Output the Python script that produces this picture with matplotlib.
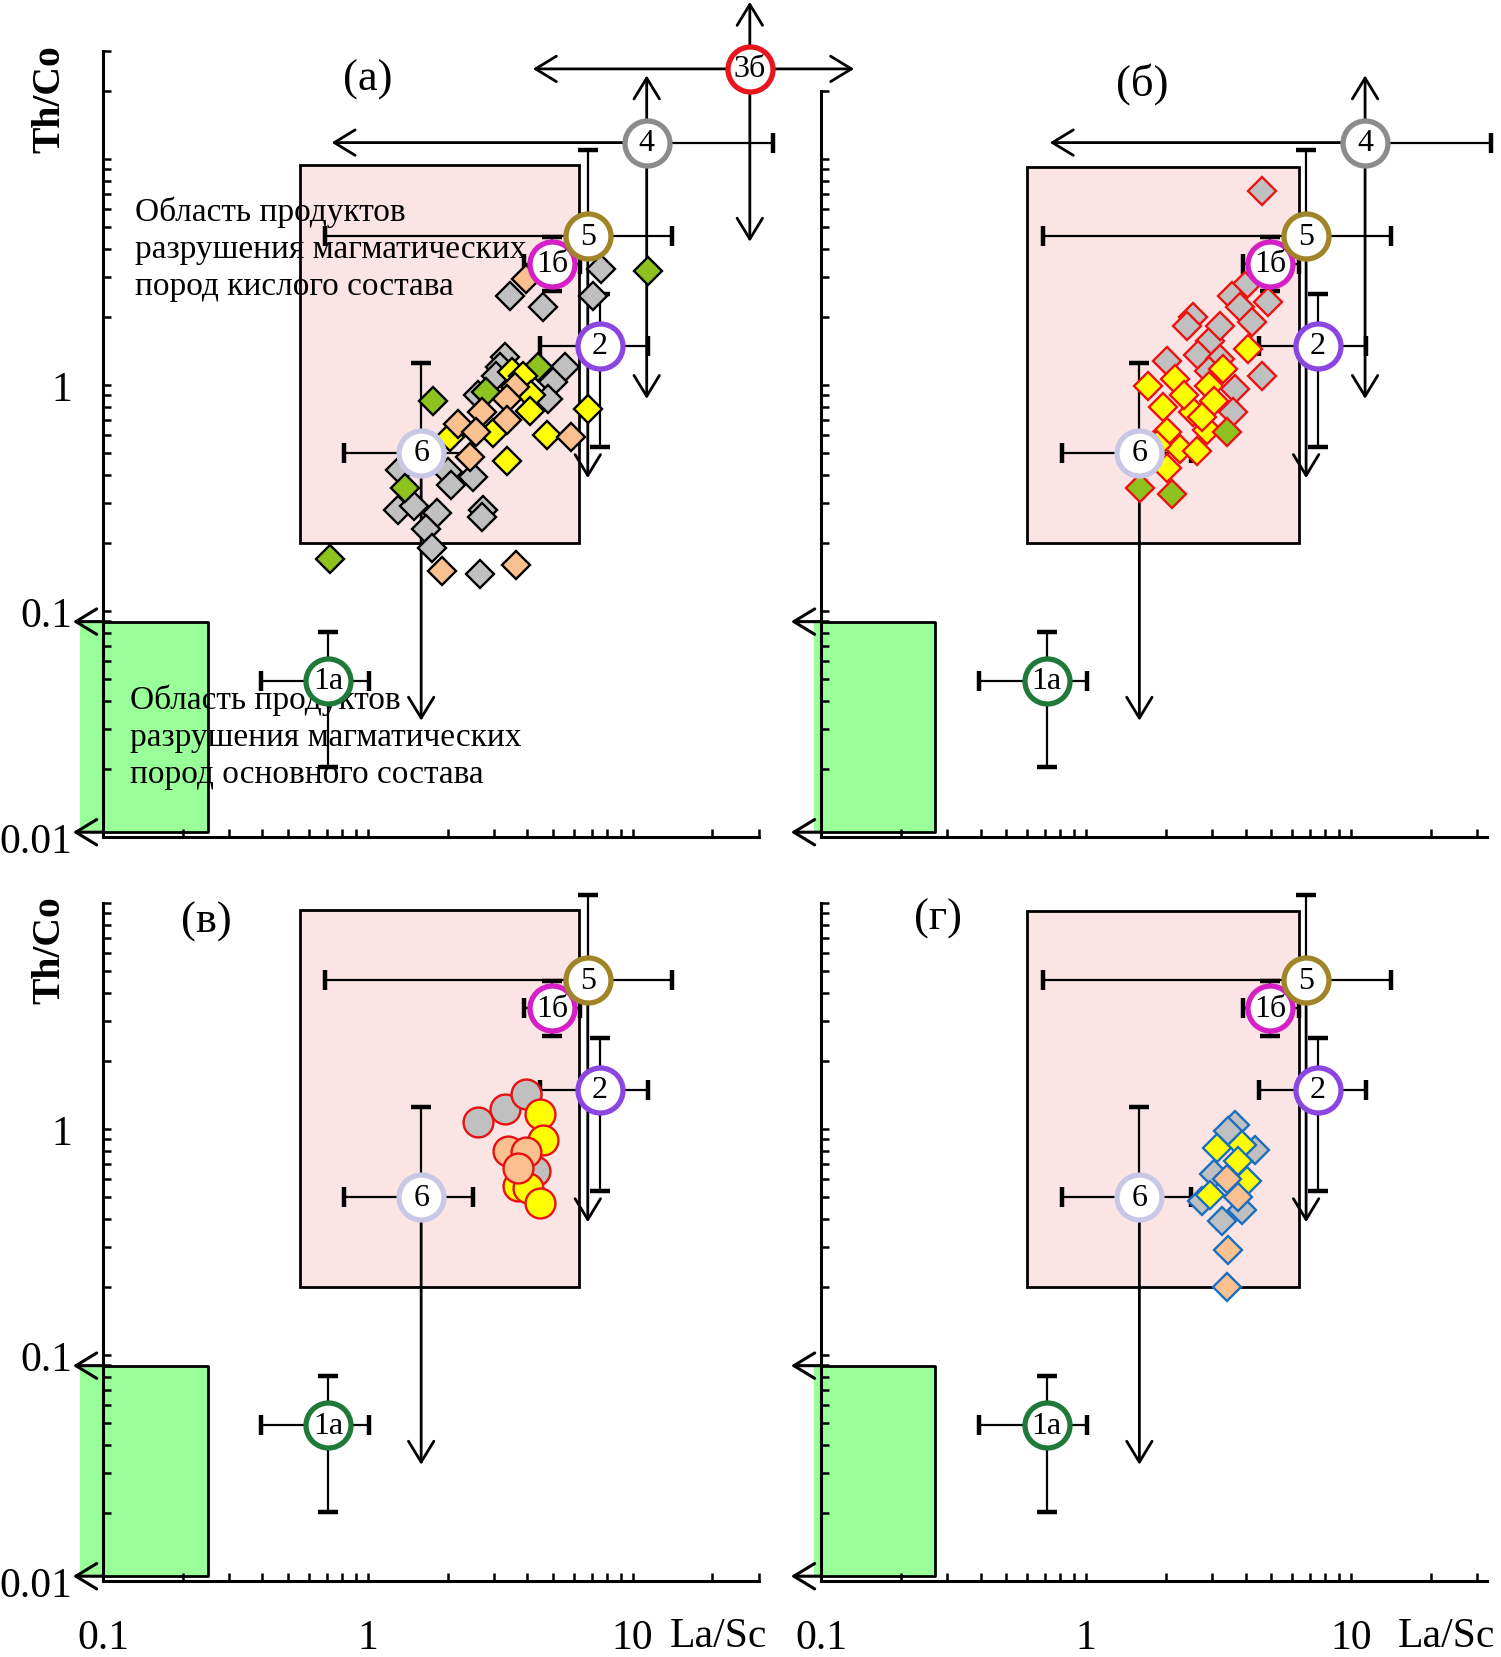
import matplotlib
matplotlib.use('Agg')
import matplotlib.pyplot as plt
from matplotlib.ticker import FixedLocator, FixedFormatter, NullFormatter
from matplotlib.patches import Rectangle

plt.rcParams['font.family'] = ['Liberation Serif', 'DejaVu Serif']

# ---------------- reference compositions ----------------
REF_NAMES = ['1а', '6', '2', '1б', '5', '4', '3б']
REF_X = [0.71, 1.59, 7.5, 4.96, 6.77, 11.3, 27.7]
REF_Y = [0.049, 0.50, 1.49, 3.43, 4.55, 11.8, 25.0]
REF_XLO = [0.396, 0.81, 4.48, 3.90, 0.687, 0.73, 4.2]
REF_XHI = [1.01, 2.50, 11.4, 6.35, 14.1, 33.8, 68.6]
REF_YLO = [0.0203, 0.0327, 0.53, 2.59, 0.387, 0.867, 4.3]
REF_YHI = [0.0805, 1.25, 2.53, 4.5, 10.9, 23.4, 49.5]
# end type of (xlo, xhi, ylo, yhi): c = cap, a = arrow
REF_ENDS = ['cccc', 'ccac', 'cccc', 'cccc', 'ccac', 'acaa', 'aaaa']
REF_COLORS = ['#1f7a3a', '#c8c8e6', '#8b45e0', '#d420c6', '#a08428', '#8c8c8c', '#e8161b']

# fields: [x0, x1, y0, y1] for left and right columns
ACID_FIELD_L = [0.556, 6.28, 0.2, 9.35]
ACID_FIELD_R = [0.60, 6.35, 0.2, 9.2]
BASIC_FIELD_L = [0.0817, 0.249, 0.0105, 0.0897]
BASIC_FIELD_R = [0.094, 0.269, 0.0105, 0.0897]
ARROW_TIP_X = 0.077

TEXT_ACID = ['Область продуктов', 'разрушения магматических', 'пород кислого состава']
TEXT_BASIC = ['Область продуктов', 'разрушения магматических', 'пород основного состава']

# ---------------- panel (а) samples ----------------
A_GRAY_X = [7.62, 7.08, 3.43, 4.59, 3.29, 3.15, 3.06, 5.53, 5.00, 4.79, 2.61, 2.01, 2.50, 1.32, 2.07,
            1.30, 1.50, 1.82, 2.72, 2.69, 1.66, 1.74, 2.65]
A_GRAY_Y = [3.26, 2.48, 2.48, 2.21, 1.33, 1.20, 1.10, 1.20, 1.03, 0.87, 0.90, 0.41, 0.39, 0.42, 0.36,
            0.28, 0.29, 0.27, 0.28, 0.26, 0.23, 0.19, 0.146]
A_GREEN_X = [11.4, 4.39, 2.80, 1.76, 1.38, 0.72]
A_GREEN_Y = [3.2, 1.20, 0.93, 0.85, 0.35, 0.17]
A_YELLOW_X = [3.49, 3.86, 4.14, 4.09, 2.04, 2.97, 6.78, 4.73, 3.34]
A_YELLOW_Y = [1.14, 1.10, 0.90, 0.77, 0.59, 0.61, 0.78, 0.60, 0.46]
A_PEACH_X = [3.97, 3.59, 3.34, 2.69, 3.34, 2.19, 2.57, 5.87, 2.43, 1.90, 3.64]
A_PEACH_Y = [2.94, 0.98, 0.87, 0.76, 0.70, 0.67, 0.62, 0.59, 0.48, 0.15, 0.16]

# ---------------- panel (б) samples ----------------
B_GRAY_X = [4.60, 3.98, 3.55, 4.88, 3.81, 4.23, 2.54, 2.94, 3.21, 2.65, 2.02, 4.60, 3.66, 3.60, 2.40,
            3.20, 2.90]
B_GRAY_Y = [7.24, 2.75, 2.48, 2.32, 2.21, 1.89, 1.99, 1.57, 1.83, 1.35, 1.28, 1.10, 0.96, 0.76, 1.83,
            1.30, 1.15]
B_YELLOW_X = [4.10, 3.30, 2.17, 1.72, 2.90, 1.96, 2.54, 2.02, 2.86, 2.26, 2.62, 1.85, 2.02,
              2.35, 3.05, 2.75]
B_YELLOW_Y = [1.44, 1.18, 1.06, 0.99, 0.99, 0.80, 0.76, 0.62, 0.63, 0.52, 0.51, 0.54, 0.43,
              0.90, 0.85, 0.72]
B_GREEN_X = [3.40, 1.60, 2.11]
B_GREEN_Y = [0.62, 0.35, 0.33]

# ---------------- panel (в) samples ----------------
C_GRAY_X = [2.61, 3.29, 3.97, 4.27]
C_GRAY_Y = [1.07, 1.23, 1.43, 0.65]
C_YELLOW_X = [4.46, 4.59, 3.69, 4.03, 4.46]
C_YELLOW_Y = [1.16, 0.89, 0.56, 0.55, 0.47]
C_PEACH_X = [3.38, 3.97, 3.69]
C_PEACH_Y = [0.80, 0.79, 0.67]

# ---------------- panel (г) samples ----------------
D_GRAY_X = [3.66, 3.44, 4.35, 3.03, 2.74, 3.25, 3.87]
D_GRAY_Y = [1.04, 0.98, 0.81, 0.63, 0.48, 0.39, 0.44]
D_YELLOW_X = [3.87, 3.11, 3.76, 4.05, 2.94]
D_YELLOW_Y = [0.85, 0.82, 0.72, 0.59, 0.51]
D_PEACH_X = [3.40, 3.76, 3.44, 3.40]
D_PEACH_Y = [0.60, 0.50, 0.29, 0.20]

GRAY = '#c0c0c0'
YELLOW = '#ffff00'
PEACH = '#fac090'
GREEN = '#8ec21e'
PINK = '#fbe4e4'
LIGHTGREEN = '#99ff99'

X_MAJOR = [0.1, 1, 10]
X_MINOR = [0.2, 0.3, 0.4, 0.5, 0.6, 0.7, 0.8, 0.9, 2, 3, 4, 5, 6, 7, 8, 9, 20, 30]
Y_MAJOR = [0.01, 0.1, 1]
Y_MAJOR_LABELS = ['0.01', '0.1', '1']
Y_MINOR = [0.02, 0.03, 0.04, 0.05, 0.06, 0.07, 0.08, 0.09,
           0.2, 0.3, 0.4, 0.5, 0.6, 0.7, 0.8, 0.9,
           2, 3, 4, 5, 6, 7, 8, 9, 10, 20, 30]

W, H = 1501, 1658
fig = plt.figure(figsize=(W / 100, H / 100), dpi=100)

ARROW = '->,head_length=1,head_width=0.61'


def make_ax(left, width, xmax, top, bottom, ytop, spine_top, xlabels, ylabels):
    ax = fig.add_axes([left / W, 1 - bottom / H, width / W, (bottom - top) / H])
    ax.set_xscale('log')
    ax.set_yscale('log')
    ax.set_xlim(0.1, xmax)
    ax.set_ylim(0.01, ytop)
    ax.patch.set_alpha(0)
    for s in ['top', 'right']:
        ax.spines[s].set_visible(False)
    for s in ['left', 'bottom']:
        ax.spines[s].set_linewidth(2.2)
    ax.spines['left'].set_bounds(0.01, spine_top)
    ax.xaxis.set_major_locator(FixedLocator(X_MAJOR))
    ax.xaxis.set_minor_locator(FixedLocator(X_MINOR))
    ax.xaxis.set_major_formatter(FixedFormatter(['0.1', '1', '10']) if xlabels else NullFormatter())
    ax.xaxis.set_minor_formatter(NullFormatter())
    ax.yaxis.set_major_locator(FixedLocator(Y_MAJOR))
    ax.yaxis.set_minor_locator(FixedLocator([v for v in Y_MINOR if v <= spine_top]))
    ax.yaxis.set_major_formatter(FixedFormatter(Y_MAJOR_LABELS) if ylabels else NullFormatter())
    ax.yaxis.set_minor_formatter(NullFormatter())
    ax.tick_params(which='both', direction='in', length=5.8, width=1.8, top=False, right=False,
                   labelsize=30)
    ax.tick_params(axis='y', pad=22)
    ax.tick_params(axis='x', pad=27)
    return ax


def fields(ax, acid, basic):
    x0, x1, y0, y1 = acid
    ax.add_patch(Rectangle((x0, y0), x1 - x0, y1 - y0, facecolor=PINK, edgecolor='black',
                           lw=2, zorder=1))
    gx0, gx1, gy0, gy1 = basic
    ax.add_patch(Rectangle((gx0, gy0), gx1 - gx0, gy1 - gy0, facecolor=LIGHTGREEN,
                           edgecolor='none', zorder=1, clip_on=False))
    ax.plot([0.1, gx1, gx1, 0.1], [gy1, gy1, gy0, gy0], color='black', lw=2, zorder=1.5,
            clip_on=False)
    for gy in (gy1, gy0):
        ax.annotate('', xy=(ARROW_TIP_X, gy), xytext=(0.1, gy),
                    arrowprops=dict(arrowstyle=ARROW, mutation_scale=15, lw=2.2, color='k',
                                    shrinkA=0, shrinkB=0, clip_on=False),
                    annotation_clip=False, zorder=3)


def draw_ref(ax, i):
    x, y = REF_X[i], REF_Y[i]
    ends = REF_ENDS[i]
    segs = [((REF_XLO[i], y), ends[0], '|'), ((REF_XHI[i], y), ends[1], '|'),
            ((x, REF_YLO[i]), ends[2], '_'), ((x, REF_YHI[i]), ends[3], '_')]
    for (ex, ey), style, capm in segs:
        if style == 'a':
            ax.annotate('', xy=(ex, ey), xytext=(x, y),
                        arrowprops=dict(arrowstyle=ARROW, mutation_scale=15, lw=2, color='k',
                                        shrinkA=0, shrinkB=0, clip_on=False),
                        annotation_clip=False, zorder=3)
        else:
            ax.plot([x, ex], [y, ey], color='k', lw=1.6, clip_on=False, zorder=3,
                    solid_capstyle='butt')
            ax.plot([ex], [ey], marker=capm, ms=15, mew=3.2, color='k', clip_on=False, zorder=3)


def draw_ref_marker(ax, i):
    ax.plot([REF_X[i]], [REF_Y[i]], 'o', ms=32.4, mfc='white', mec=REF_COLORS[i], mew=3.8,
            zorder=5, clip_on=False)
    ax.text(REF_X[i], REF_Y[i], REF_NAMES[i], ha='center', va='center', fontsize=23, zorder=6,
            clip_on=False)


def refs(ax, idx):
    for i in idx:
        draw_ref(ax, i)
    for i in idx:
        draw_ref_marker(ax, i)


def scatter(ax, xs, ys, fc, ec, marker='D', ms=14.4):
    ax.plot(xs, ys, linestyle='none', marker=marker, ms=ms, mfc=fc, mec=ec, mew=1.7, zorder=4,
            clip_on=False)


# axes (right column spans a little further, to about 32.6)
ax_a = make_ax(103, 656, 30, 52, 838, 30, 30, False, True)
ax_b = make_ax(821, 666, 32.6, 52, 838, 30, 20, False, False)
ax_c = make_ax(103, 656, 30, 904, 1582, 10, 10, True, True)
ax_d = make_ax(821, 666, 32.6, 904, 1582, 10, 10, True, False)

fields(ax_a, ACID_FIELD_L, BASIC_FIELD_L)
fields(ax_b, ACID_FIELD_R, BASIC_FIELD_R)
fields(ax_c, ACID_FIELD_L, BASIC_FIELD_L)
fields(ax_d, ACID_FIELD_R, BASIC_FIELD_R)

# texts in (а)
for k, line in enumerate(TEXT_ACID):
    ax_a.text(0.0485, 0.7850 - k * 0.0471, line, transform=ax_a.transAxes, fontsize=24,
              ha='left', va='baseline', zorder=2)
for k, line in enumerate(TEXT_BASIC):
    ax_a.text(0.0412, 0.1641 - k * 0.0471, line, transform=ax_a.transAxes, fontsize=24,
              ha='left', va='baseline', zorder=2)

# samples
scatter(ax_a, A_GRAY_X, A_GRAY_Y, GRAY, 'black')
scatter(ax_a, A_GREEN_X, A_GREEN_Y, GREEN, 'black')
scatter(ax_a, A_YELLOW_X, A_YELLOW_Y, YELLOW, 'black')
scatter(ax_a, A_PEACH_X, A_PEACH_Y, PEACH, 'black')

scatter(ax_b, B_GRAY_X, B_GRAY_Y, GRAY, '#ee1111')
scatter(ax_b, B_YELLOW_X, B_YELLOW_Y, YELLOW, '#ee1111')
scatter(ax_b, B_GREEN_X, B_GREEN_Y, GREEN, '#ee1111')

scatter(ax_c, C_GRAY_X, C_GRAY_Y, GRAY, '#e81010', marker='o', ms=21.5)
scatter(ax_c, C_YELLOW_X, C_YELLOW_Y, YELLOW, '#e81010', marker='o', ms=21.5)
scatter(ax_c, C_PEACH_X, C_PEACH_Y, PEACH, '#e81010', marker='o', ms=21.5)

scatter(ax_d, D_GRAY_X, D_GRAY_Y, GRAY, '#1a6ec2')
scatter(ax_d, D_YELLOW_X, D_YELLOW_Y, YELLOW, '#1a6ec2')
scatter(ax_d, D_PEACH_X, D_PEACH_Y, PEACH, '#1a6ec2')

# reference compositions
refs(ax_a, [0, 1, 2, 3, 4, 5, 6])
refs(ax_b, [0, 1, 2, 3, 4, 5])
refs(ax_c, [0, 1, 2, 3, 4])
refs(ax_d, [0, 1, 2, 3, 4])

# panel labels
for (px, py, lab) in [(368, 80, '(а)'), (1142, 84, '(б)'), (206, 922, '(в)'), (938, 919, '(г)')]:
    fig.text(px / W, 1 - py / H, lab, ha='center', va='center', fontsize=32)

# axis titles
for py in (99, 950):
    fig.text(50 / W, 1 - py / H, 'Th/Co', rotation=90, ha='center', va='center', fontsize=28.5,
             fontweight='bold')
for px in (670, 1398):
    fig.text(px / W, 1 - 1647 / H, 'La/Sc', ha='left', va='baseline', fontsize=30)

fig.savefig('out.png', dpi=100)
